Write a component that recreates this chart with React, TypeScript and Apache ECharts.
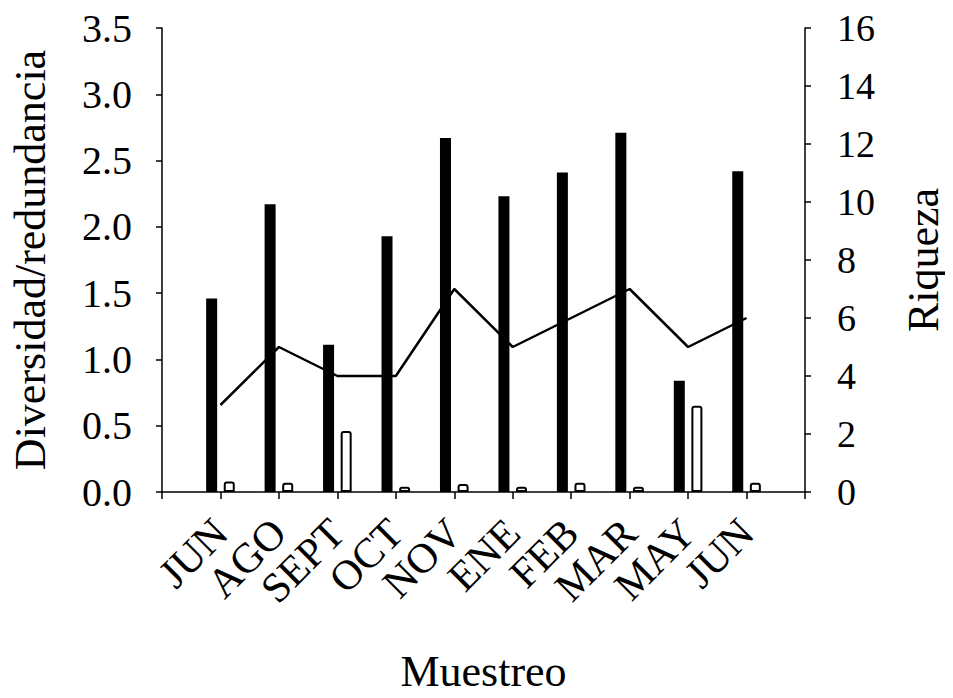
import React, { useEffect, useRef } from "react";
import * as echarts from "echarts";

const categories = ["", "JUN", "AGO", "SEPT", "OCT", "NOV", "ENE", "FEB", "MAR", "MAY", "JUN", ""];
const diversidad = [null, 1.46, 2.17, 1.11, 1.93, 2.67, 2.23, 2.41, 2.71, 0.84, 2.42, null];
const redundancia = [null, 0.08, 0.07, 0.46, 0.04, 0.06, 0.04, 0.07, 0.04, 0.65, 0.07, null];
const riqueza = [null, 3, 5, 4, 4, 7, 5, 6, 7, 5, 6, null];

const FONT = "'Liberation Serif', 'Times New Roman', serif";

export default function App() {
  const ref = useRef<HTMLDivElement>(null);
  useEffect(() => {
    if (!ref.current) return;
    const chart = echarts.init(ref.current, null, { renderer: "svg" });
    chart.setOption({
      animation: false,
      backgroundColor: "#ffffff",
      grid: { left: 160, right: 146, top: 28, bottom: 204 },
      xAxis: {
        type: "category",
        data: categories,
        boundaryGap: false,
        name: "Muestreo",
        nameLocation: "middle",
        nameGap: 157,
        nameTextStyle: { fontFamily: FONT, fontSize: 44, color: "#000" },
        axisLine: { lineStyle: { color: "#000", width: 1.5 } },
        axisTick: { show: true, length: 7, lineStyle: { color: "#000", width: 1.5 }, interval: 0 },
        axisLabel: {
          interval: 0,
          rotate: 45,
          margin: 34,
          fontFamily: FONT,
          fontSize: 42,
          color: "#000",
        },
        splitLine: { show: false },
      },
      yAxis: [
        {
          type: "value",
          min: 0,
          max: 3.5,
          interval: 0.5,
          name: "Diversidad/redundancia",
          nameLocation: "middle",
          nameGap: 110,
          nameTextStyle: { fontFamily: FONT, fontSize: 44, color: "#000" },
          axisLine: { show: true, lineStyle: { color: "#000", width: 1.5 } },
          axisTick: { show: true, length: 6, lineStyle: { color: "#000", width: 1.5 } },
          axisLabel: {
            fontFamily: FONT,
            fontSize: 40,
            color: "#000",
            margin: 30,
            formatter: (v: number) => v.toFixed(1),
          },
          splitLine: { show: false },
        },
        {
          type: "value",
          min: 0,
          max: 16,
          interval: 2,
          position: "right",
          name: "Riqueza",
          nameLocation: "middle",
          nameGap: 96,
          nameTextStyle: { fontFamily: FONT, fontSize: 44, color: "#000" },
          axisLine: { show: true, lineStyle: { color: "#000", width: 1.5 } },
          axisTick: { show: true, length: 6, lineStyle: { color: "#000", width: 1.5 } },
          axisLabel: { fontFamily: FONT, fontSize: 38, color: "#000", margin: 32 },
          splitLine: { show: false },
        },
      ],
      series: [
        {
          name: "Diversidad",
          type: "bar",
          yAxisIndex: 0,
          data: diversidad,
          barWidth: 11,
          barGap: "60%",
          itemStyle: { color: "#000" },
        },
        {
          name: "Redundancia",
          type: "bar",
          yAxisIndex: 0,
          data: redundancia,
          barWidth: 11,
          barGap: "60%",
          itemStyle: { color: "#fff", borderColor: "#000", borderWidth: 2, borderRadius: [2, 2, 0, 0] },
        },
        {
          name: "Riqueza",
          type: "line",
          yAxisIndex: 1,
          data: riqueza,
          showSymbol: false,
          symbol: "none",
          lineStyle: { color: "#000", width: 2.5 },
          connectNulls: false,
          z: 5,
        },
      ],
    });
    return () => chart.dispose();
  }, []);
  return <div ref={ref} style={{ width: 953, height: 698, margin: -8 }} />;
}
